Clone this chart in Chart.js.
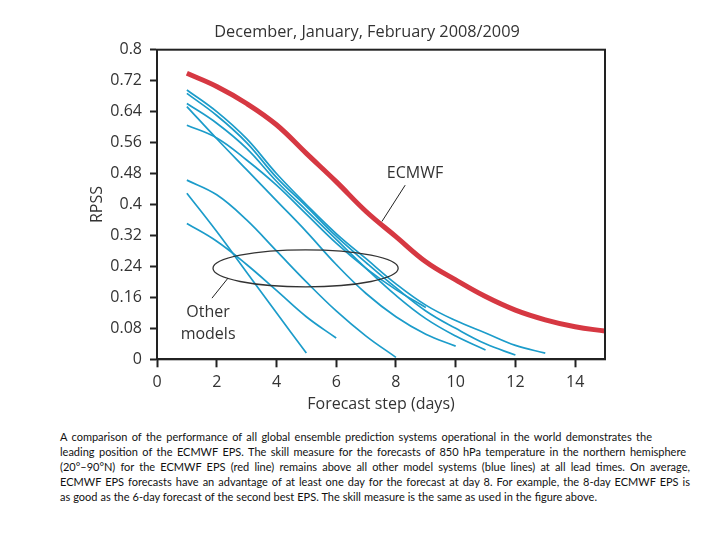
<!DOCTYPE html>
<html>
<head>
<meta charset="utf-8">
<title>RPSS</title>
<script src="https://cdn.jsdelivr.net/npm/chart.js@4.4.0/dist/chart.umd.min.js"></script>
<style>
    body { margin: 0; background: #fff; }
    #wrap { position: relative; width: 720px; height: 540px; }
    #caption {
        position: absolute; left: 60px; top: 429px;
        font-family: Lato, "Open Sans", sans-serif; font-size: 11px; line-height: 15px;
        color: #111; white-space: nowrap;
    }
    #caption div { text-align: justify; text-align-last: justify; }
</style>
</head>
<body>
<div id="wrap">
    <canvas id="rpssChart" width="720" height="420"></canvas>
    <div id="caption">
        <div style="width:592px">A comparison of the performance of all global ensemble prediction systems operational in the world demonstrates the</div>
        <div style="width:626px">leading position of the ECMWF EPS. The skill measure for the forecasts of 850 hPa temperature in the northern hemisphere</div>
        <div style="width:630px">(20°–90°N) for the ECMWF EPS (red line) remains above all other model systems (blue lines) at all lead times. On average,</div>
        <div style="width:630px">ECMWF EPS forecasts have an advantage of at least one day for the forecast at day 8. For example, the 8-day ECMWF EPS is</div>
        <div style="width:537px">as good as the 6-day forecast of the second best EPS. The skill measure is the same as used in the figure above.</div>
    </div>
</div>

<script>
    // forecast step (days)
    var days = [1, 2, 3, 4, 5, 6, 7, 8, 9, 10, 11, 12, 13, 14, 15];

    // ECMWF EPS (red)
    var ecmwfRpss = [0.739, 0.705, 0.661, 0.606, 0.532, 0.459, 0.382, 0.317, 0.252, 0.205, 0.162, 0.127, 0.102, 0.084, 0.073];

    // other models (blue)
    var model1Rpss = [0.696, 0.64, 0.57, 0.48, 0.40, 0.325, 0.26, 0.195, 0.14, 0.10, 0.068, 0.036, 0.016];
    var model2Rpss = [0.687, 0.63, 0.56, 0.47, 0.395, 0.318, 0.25, 0.185, 0.125, 0.08, 0.04, 0.011];
    var model3Rpss = [0.661, 0.61, 0.545, 0.46, 0.385, 0.31, 0.235, 0.165, 0.105, 0.06, 0.024];
    var model4Rpss = [0.653, 0.57, 0.49, 0.41, 0.33, 0.245, 0.17, 0.11, 0.065, 0.034];
    var model5Rpss = [0.605, 0.572, 0.515, 0.45, 0.375, 0.30, 0.235, 0.18, 0.134];
    var model6Rpss = [0.463, 0.425, 0.36, 0.28, 0.20, 0.125, 0.06, 0.005];
    var model7Rpss = [0.351, 0.305, 0.245, 0.178, 0.11, 0.055];
    var model8Rpss = [0.429, 0.33, 0.225, 0.12, 0.016];

    var xTicks = [0, 2, 4, 6, 8, 10, 12, 14];
    var yTicks = [0, 0.08, 0.16, 0.24, 0.32, 0.4, 0.48, 0.56, 0.64, 0.72, 0.8];
    var yTickLabels = ['0', '0.08', '0.16', '0.24', '0.32', '0.4', '0.48', '0.56', '0.64', '0.72', '0.8'];

    var chartTitle = 'December, January, February 2008/2009';

    var BLUE = 'rgb(28,156,202)';
    var RED = 'rgb(214,56,66)';
    var TEXT = '#333';

    function toPoints(values) {
        var pts = [];
        for (var i = 0; i < values.length; i++) {
            pts.push({x: days[i], y: values[i]});
        }
        return pts;
    }

    function blueLine(values) {
        return {
            data: toPoints(values),
            borderColor: BLUE,
            borderWidth: 1.7,
            pointRadius: 0,
            tension: 0.4,
            fill: false
        };
    }

    var notesPlugin = {
        id: 'notes',
        afterDraw: function (chart) {
            var ctx = chart.ctx;
            var area = chart.chartArea;
            var xs = chart.scales.x;
            var ys = chart.scales.y;
            ctx.save();

            // frame
            ctx.strokeStyle = '#222';
            ctx.lineWidth = 2;
            ctx.strokeRect(area.left, area.top, area.right - area.left, area.bottom - area.top);

            // title, a little left of the plot centre as in the original
            ctx.fillStyle = TEXT;
            ctx.font = '16.3px "Open Sans"';
            ctx.textAlign = 'center';
            ctx.textBaseline = 'middle';
            ctx.fillText(chartTitle, 367, 32);

            // ellipse round the other models
            var cx = xs.getPixelForValue(4.975);
            var cy = ys.getPixelForValue(0.235);
            var rx = xs.getPixelForValue(4.975 + 3.1) - cx;
            var ry = cy - ys.getPixelForValue(0.235 + 0.048);
            ctx.strokeStyle = '#333';
            ctx.lineWidth = 1.3;
            ctx.beginPath();
            ctx.ellipse(cx, cy, rx, ry, 0, 0, Math.PI * 2);
            ctx.stroke();

            // leader lines
            ctx.lineWidth = 1;
            ctx.strokeStyle = '#222';
            ctx.beginPath();
            ctx.moveTo(xs.getPixelForValue(8.31), ys.getPixelForValue(0.450));
            ctx.lineTo(xs.getPixelForValue(7.53), ys.getPixelForValue(0.356));
            ctx.moveTo(xs.getPixelForValue(2.38), ys.getPixelForValue(0.210));
            ctx.lineTo(xs.getPixelForValue(1.84), ys.getPixelForValue(0.158));
            ctx.stroke();

            // labels
            ctx.font = '16px "Open Sans"';
            ctx.fillText('ECMWF', xs.getPixelForValue(8.64), ys.getPixelForValue(0.479));
            ctx.fillText('Other', xs.getPixelForValue(1.71), ys.getPixelForValue(0.122));
            ctx.fillText('models', xs.getPixelForValue(1.71), ys.getPixelForValue(0.065));
            ctx.restore();
        }
    };

    var datasets = [
        {
            data: toPoints(ecmwfRpss),
            borderColor: RED,
            borderWidth: 5,
            pointRadius: 0,
            tension: 0.4,
            fill: false
        },
        blueLine(model1Rpss),
        blueLine(model2Rpss),
        blueLine(model3Rpss),
        blueLine(model4Rpss),
        blueLine(model5Rpss),
        blueLine(model6Rpss),
        blueLine(model7Rpss),
        blueLine(model8Rpss)
    ];

    var rpssCanvas = document.getElementById('rpssChart').getContext('2d');
    var rpssChart = new Chart(rpssCanvas, {
        type: 'line',
        data: {datasets: datasets},
        plugins: [notesPlugin],
        options: {
            responsive: false,
            animation: false,
            layout: {padding: {left: 0, right: 115, top: 49.7, bottom: 0}},
            plugins: {
                legend: {display: false},
                tooltip: {enabled: false},
                title: {display: false}
            },
            scales: {
                x: {
                    type: 'linear',
                    min: 0,
                    max: 15,
                    afterBuildTicks: function (s) {
                        s.ticks = xTicks.map(function (v) { return {value: v}; });
                    },
                    afterFit: function (s) { s.height = 60.7; },
                    ticks: {
                        color: TEXT,
                        font: {family: '"Open Sans"', size: 16},
                        padding: 6,
                        maxRotation: 0,
                        callback: function (v) { return String(v); }
                    },
                    grid: {drawOnChartArea: false, tickLength: 8, tickWidth: 2, tickColor: '#222'},
                    border: {display: true, color: '#222', width: 2},
                    title: {
                        display: true,
                        text: 'Forecast step (days)',
                        color: TEXT,
                        font: {family: '"Open Sans"', size: 16, lineHeight: 1.2},
                        padding: {top: 0, bottom: 6.4}
                    }
                },
                y: {
                    type: 'linear',
                    min: 0,
                    max: 0.8,
                    afterBuildTicks: function (s) {
                        s.ticks = yTicks.map(function (v) { return {value: v}; });
                    },
                    afterFit: function (s) { s.width = 157; },
                    ticks: {
                        color: TEXT,
                        font: {family: '"Open Sans"', size: 16},
                        padding: 8,
                        callback: function (v, i) { return yTickLabels[i]; }
                    },
                    grid: {drawOnChartArea: false, tickLength: 7, tickWidth: 2, tickColor: '#222'},
                    border: {display: true, color: '#222', width: 2},
                    title: {
                        display: true,
                        text: 'RPSS',
                        color: TEXT,
                        font: {family: '"Open Sans"', size: 16, lineHeight: 1.2},
                        padding: {top: 88, bottom: 0}
                    }
                }
            }
        }
    });
</script>
</body>
</html>
